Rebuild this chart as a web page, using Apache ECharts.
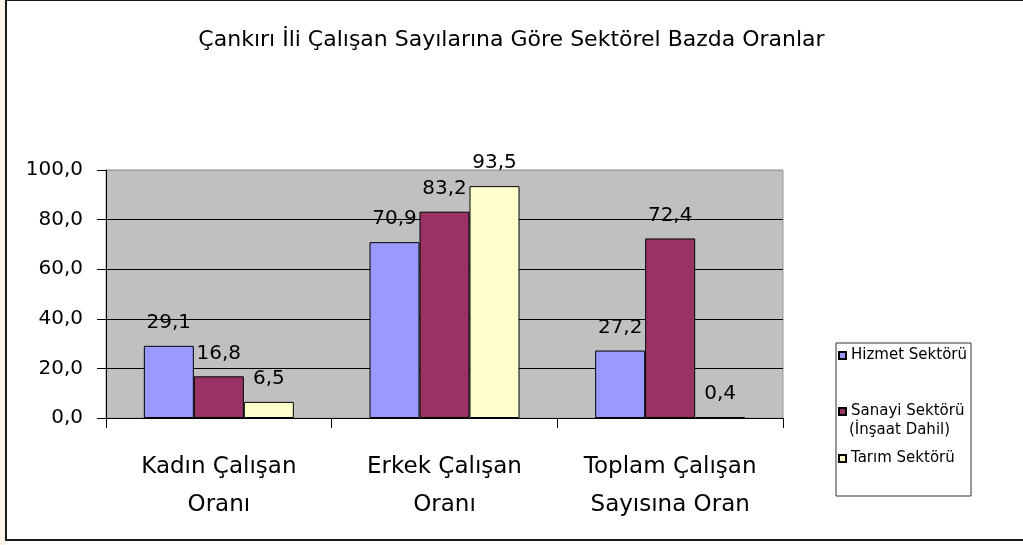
<!DOCTYPE html>
<html>
<head>
<meta charset="utf-8">
<script src="https://cdn.jsdelivr.net/npm/echarts@6/dist/echarts.min.js"></script>
<style>
  html, body { margin: 0; padding: 0; width: 1023px; height: 545px; overflow: hidden; background: #fff; }
  #strip { position: absolute; left: 0; top: 0; width: 5px; height: 545px; background: #fdf6e8; }
  #frame { position: absolute; left: 5px; top: -1px; width: 1100px; height: 542px; box-sizing: border-box; border: 2px solid #1a1a1a; border-right: none; background: #fff; }
  #chart { position: absolute; left: 0; top: 0; width: 1023px; height: 545px; }
</style>
</head>
<body>
<div id="strip"></div>
<div id="frame"></div>
<div id="chart"></div>
<script>
// veriler
var kategoriler = ['Kadın Çalışan\nOranı', 'Erkek Çalışan\nOranı', 'Toplam Çalışan\nSayısına Oran'];
var hizmet = [29.1, 70.9, 27.2];
var sanayi = [16.8, 83.2, 72.4];
var tarim = [6.5, 93.5, 0.4];
var seriAdlari = ['Hizmet Sektörü', 'Sanayi Sektörü', 'Tarım Sektörü'];
var renkler = ['#9999ff', '#993366', '#ffffcc'];

var yazi = "'DejaVu Sans', sans-serif";

function virgul(v) {
	return v.toFixed(1).replace('.', ',');
}

function seri(ad, veri, renk) {
	return {
		name: ad,
		type: 'bar',
		barWidth: 50,
		barGap: '0%',
		itemStyle: {color: renk, borderColor: '#000', borderWidth: 1},
		label: {
			show: true,
			position: 'top',
			distance: 13,
			color: '#000',
			fontFamily: yazi,
			fontSize: 20,
			formatter: function(p) { return virgul(p.value); }
		},
		emphasis: {disabled: true},
		data: veri
	};
}

function lejant(ad, ust) {
	return {
		data: [ad],
		left: 838,
		top: ust,
		padding: 0,
		icon: 'rect',
		itemWidth: 7,
		itemHeight: 7,
		selectedMode: false,
		textStyle: {color: '#000', fontFamily: yazi, fontSize: 15}
	};
}

var option = {
	animation: false,
	title: {
		text: 'Çankırı İli Çalışan Sayılarına Göre Sektörel Bazda Oranlar',
		left: 'center',
		top: 24,
		textStyle: {color: '#000', fontFamily: yazi, fontSize: 22, fontWeight: 'normal'}
	},
	legend: [
		lejant(seriAdlari[0], 348),
		lejant(seriAdlari[1], 404),
		lejant(seriAdlari[2], 451)
	],
	graphic: [
		{type: 'rect', z: -1, shape: {x: 836, y: 343, width: 135, height: 153},
			style: {fill: '#fff', stroke: '#333', lineWidth: 1}},
		{type: 'text', left: 849, top: 423,
			style: {text: '(İnşaat Dahil)', fill: '#000', font: "15px 'DejaVu Sans', sans-serif"}}
	],
	grid: {
		left: 106, right: 240, top: 170, bottom: 127,
		show: true, backgroundColor: '#c0c0c0', borderColor: '#999', borderWidth: 1
	},
	xAxis: {
		type: 'category',
		data: kategoriler,
		axisLine: {lineStyle: {color: '#000', width: 1}},
		axisTick: {show: true, length: 10, lineStyle: {color: '#000'}},
		axisLabel: {
			interval: 0,
			margin: 30,
			color: '#000',
			fontFamily: yazi,
			fontSize: 23,
			lineHeight: 38
		}
	},
	yAxis: {
		type: 'value',
		min: 0,
		max: 100,
		interval: 20,
		axisLine: {show: true, lineStyle: {color: '#000', width: 1}},
		axisTick: {show: true, length: 9, lineStyle: {color: '#000'}},
		axisLabel: {
			margin: 23,
			color: '#000',
			fontFamily: yazi,
			fontSize: 20,
			formatter: function(v) { return virgul(v); }
		},
		splitLine: {show: true, lineStyle: {color: ['#000', '#000', '#000', '#000', '#000', '#999'], width: 1}}
	},
	series: [
		seri(seriAdlari[0], hizmet, renkler[0]),
		seri(seriAdlari[1], sanayi, renkler[1]),
		seri(seriAdlari[2], tarim, renkler[2])
	]
};

var myChart = echarts.init(document.getElementById('chart'));
myChart.setOption(option);
</script>
</body>
</html>
